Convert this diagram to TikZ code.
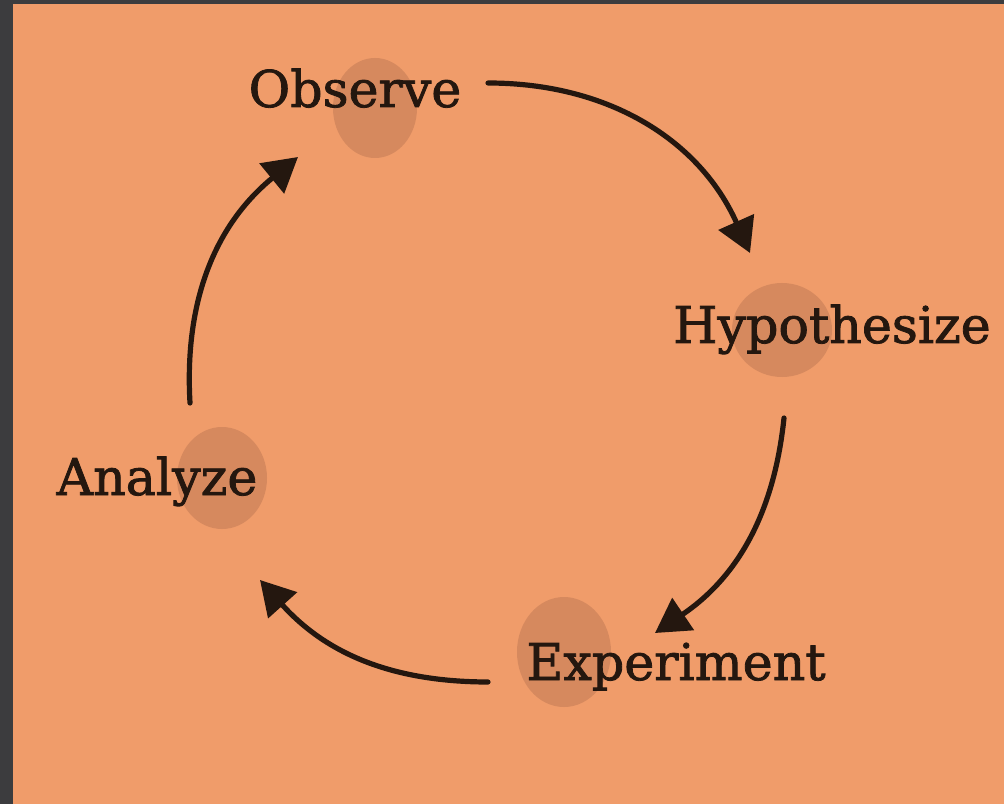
\documentclass[tikz,border=0pt]{standalone}
\usepackage{fontspec}
\setmainfont[FakeBold=1.6]{DejaVu Serif}
\usetikzlibrary{arrows.meta}
\definecolor{paper}{HTML}{F09C6A}
\definecolor{frame}{HTML}{3C3C3E}
\definecolor{blob}{HTML}{D6895E}
\definecolor{ink}{HTML}{24170F}

\begin{document}
\begin{tikzpicture}[x=0.025cm,y=0.025cm,>={Triangle[length=0.85cm,width=0.95cm]}]
    \useasboundingbox (0,0) rectangle (1004,804);
    \fill[frame] (0,0) rectangle (1004,804);
    \fill[paper] (13,0) rectangle (1004,800);
    \foreach \x/\y/\a/\b in {375/696/42/50,782/474/50/47,564/152/47/55,222/326/45/51}
    {
        \fill[blob] (\x,\y) ellipse [x radius=\a, y radius=\b];
    }
    \foreach \n/\x/\y/\t in {obs/355/697/Observe,hyp/832/461/Hypothesize,exp/676/124/Experiment,ana/157/309/Analyze}
    {
        \node[anchor=base,inner sep=0pt,text=ink,font=\fontsize{36}{40}\selectfont](\n) at (\x,\y){\t};
    }
    \coordinate (obs-out) at (488,721);
    \coordinate (hyp-in) at (750,551);
    \coordinate (hyp-out) at (784,386);
    \coordinate (exp-in) at (655,171);
    \coordinate (exp-out) at (488,122);
    \coordinate (ana-in) at (260,224);
    \coordinate (ana-out) at (190,401);
    \coordinate (obs-in) at (298,647);
    \foreach \a/\b/\t in {obs-out/hyp-in/33,hyp-out/exp-in/25,exp-out/ana-in/24,ana-out/obs-in/27}
    {
        \draw[->,line width=0.13cm,line cap=round,ink] (\a) to[bend left=\t] (\b);
    }
\end{tikzpicture}
\end{document}
